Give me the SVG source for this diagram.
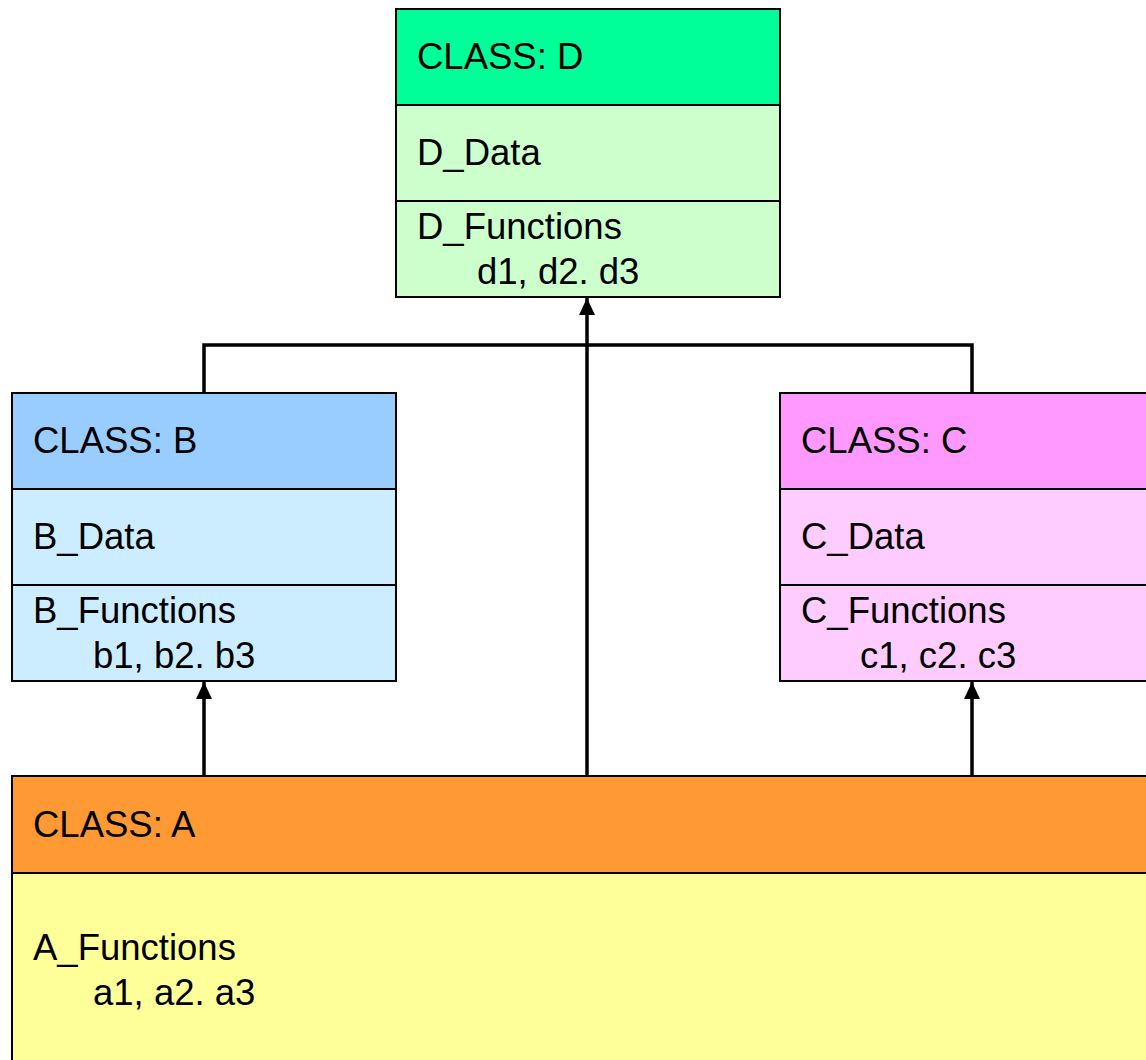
<svg xmlns="http://www.w3.org/2000/svg" width="1146" height="1060" viewBox="0 0 1146 1060">
<defs>
<style>
text{font-family:"Liberation Sans",Arial,sans-serif;font-size:36.5px;fill:#000}
.box{stroke:#000;stroke-width:2}
.con{stroke:#000;stroke-width:3.5;fill:none}
</style>
<marker id="arr" viewBox="0 0 18 18" refX="17" refY="9" markerWidth="18" markerHeight="18" markerUnits="userSpaceOnUse" orient="auto">
<path d="M0,1L17,9L0,17z" fill="#000"/>
</marker>
</defs>
<rect width="1146" height="1060" fill="#fff"/>
<g id="connectors">
<polyline class="con" points="204,393 204,345 972,345 972,393"/>
<line class="con" x1="587" y1="776" x2="587" y2="298" marker-end="url(#arr)"/>
<line class="con" x1="204" y1="776" x2="204" y2="682" marker-end="url(#arr)"/>
<line class="con" x1="972" y1="776" x2="972" y2="682" marker-end="url(#arr)"/>
</g>
<g id="classD">
<rect class="box" x="396" y="9" width="384" height="96" fill="#00FF99"/>
<rect class="box" x="396" y="105" width="384" height="96" fill="#CCFFCC"/>
<rect class="box" x="396" y="201" width="384" height="96" fill="#CCFFCC"/>
<text x="417" y="69">CLASS: D</text>
<text x="417" y="165">D_Data</text>
<text x="417" y="239">D_Functions</text>
<text x="477" y="284">d1, d2. d3</text>
</g>
<g id="classB">
<rect class="box" x="12" y="393" width="384" height="96" fill="#99CCFF"/>
<rect class="box" x="12" y="489" width="384" height="96" fill="#CCECFF"/>
<rect class="box" x="12" y="585" width="384" height="96" fill="#CCECFF"/>
<text x="33" y="453">CLASS: B</text>
<text x="33" y="549">B_Data</text>
<text x="33" y="623">B_Functions</text>
<text x="93" y="668">b1, b2. b3</text>
</g>
<g id="classC">
<rect class="box" x="780" y="393" width="384" height="96" fill="#FF99FF"/>
<rect class="box" x="780" y="489" width="384" height="96" fill="#FFCCFF"/>
<rect class="box" x="780" y="585" width="384" height="96" fill="#FFCCFF"/>
<text x="801" y="453">CLASS: C</text>
<text x="801" y="549">C_Data</text>
<text x="801" y="623">C_Functions</text>
<text x="860" y="668">c1, c2. c3</text>
</g>
<g id="classA">
<rect class="box" x="12" y="776" width="1150" height="97" fill="#FF9933"/>
<rect class="box" x="12" y="873" width="1150" height="200" fill="#FFFF99"/>
<text x="33" y="837">CLASS: A</text>
<text x="33" y="960">A_Functions</text>
<text x="93" y="1005">a1, a2. a3</text>
</g>
</svg>
